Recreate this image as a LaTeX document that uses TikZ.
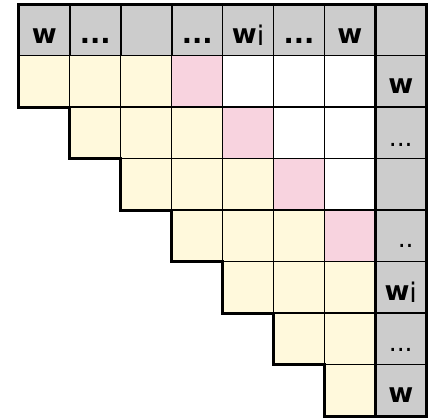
\documentclass[tikz,border=0pt]{standalone}
\usepackage{fontspec}
\usepackage{tikz}
\usetikzlibrary{positioning,calc}
\newfontfamily\cellfont{DejaVu Sans}
\definecolor{hdrgray}{HTML}{CCCCCC}
\definecolor{bandyellow}{HTML}{FFF9DC}
\definecolor{diagpink}{HTML}{F8D3DF}

\begin{document}
\begin{tikzpicture}[
    x=50.9pt,
    y=-51.5pt,
    cell/.style={rectangle, inner sep=0pt, outer sep=0pt, minimum width=50.9pt, minimum height=51.5pt, draw=black, line width=1.1pt},
    hdr/.style={cell, fill=hdrgray, line width=1.7pt},
    lbl/.style={anchor=base, inner sep=0pt, font=\cellfont\bfseries\fontsize{27}{32}\selectfont},
    dots/.style={lbl, font=\cellfont\fontsize{25}{30}\selectfont},
    outline/.style={draw=black, line width=3pt, line join=miter}
  ]
    \useasboundingbox (-0.373,-0.078) rectangle (8.173,8.058);

    % body cells, band below the pink diagonal
    \foreach \r in {1,...,7} {
      \pgfmathtruncatemacro\first{\r-1}
      \foreach \c in {\first,...,6} {
        \ifnum\c<\numexpr\r+2\relax \def\cellcol{bandyellow}\else
          \ifnum\c=\numexpr\r+2\relax \def\cellcol{diagpink}\else \def\cellcol{white}\fi\fi
        \node[cell, fill=\cellcol] (b-\r-\c) at (\c+0.5,\r+0.5) {};
      }
    }

    % header row and right column
    \foreach \c in {0,...,7}
      \node[hdr] (h-\c) at (\c+0.5,0.5) {};
    \foreach \r in {1,...,7}
      \node[hdr] (r-\r) at (7.5,\r+0.5) {};

    \node[lbl] (hl-0) at ([yshift=12pt]h-0.south) {w};
    \node[lbl] (hl-1) at ([yshift=12pt]h-1.south) {...};
    \node[lbl] (hl-3) at ([yshift=12pt]h-3.south) {...};
    \node[lbl] (hl-4) at ([yshift=12pt]h-4.south) {w\raisebox{-2pt}{\mdseries i}};
    \node[lbl] (hl-5) at ([yshift=12pt]h-5.south) {...};
    \node[lbl] (hl-6) at ([yshift=12pt]h-6.south) {w};

    \node[lbl] (rl-1) at ([yshift=14pt]r-1.south) {w};
    \node[dots] (rl-2) at ([yshift=12pt]r-2.south) {...};
    \node[dots] (rl-4) at ([xshift=5pt,yshift=14pt]r-4.south) {..};
    \node[lbl] (rl-5) at ([yshift=13pt]r-5.south) {w\raisebox{-2pt}{\mdseries i}};
    \node[dots] (rl-6) at ([yshift=13pt]r-6.south) {...};
    \node[lbl] (rl-7) at ([yshift=14pt]r-7.south) {w};

    % heavy rules
    \draw[black, line width=2.6pt] (h-7.north west) -- (r-7.south west);
    \draw[outline] (h-0.north west) -- (h-7.north east) -- (r-7.south east)
      \foreach \r/\c in {7/6,6/5,5/4,4/3,3/2,2/1,1/0} { -- (b-\r-\c.south west) -- (b-\r-\c.north west) }
      -- cycle;
  \end{tikzpicture}
\end{document}
